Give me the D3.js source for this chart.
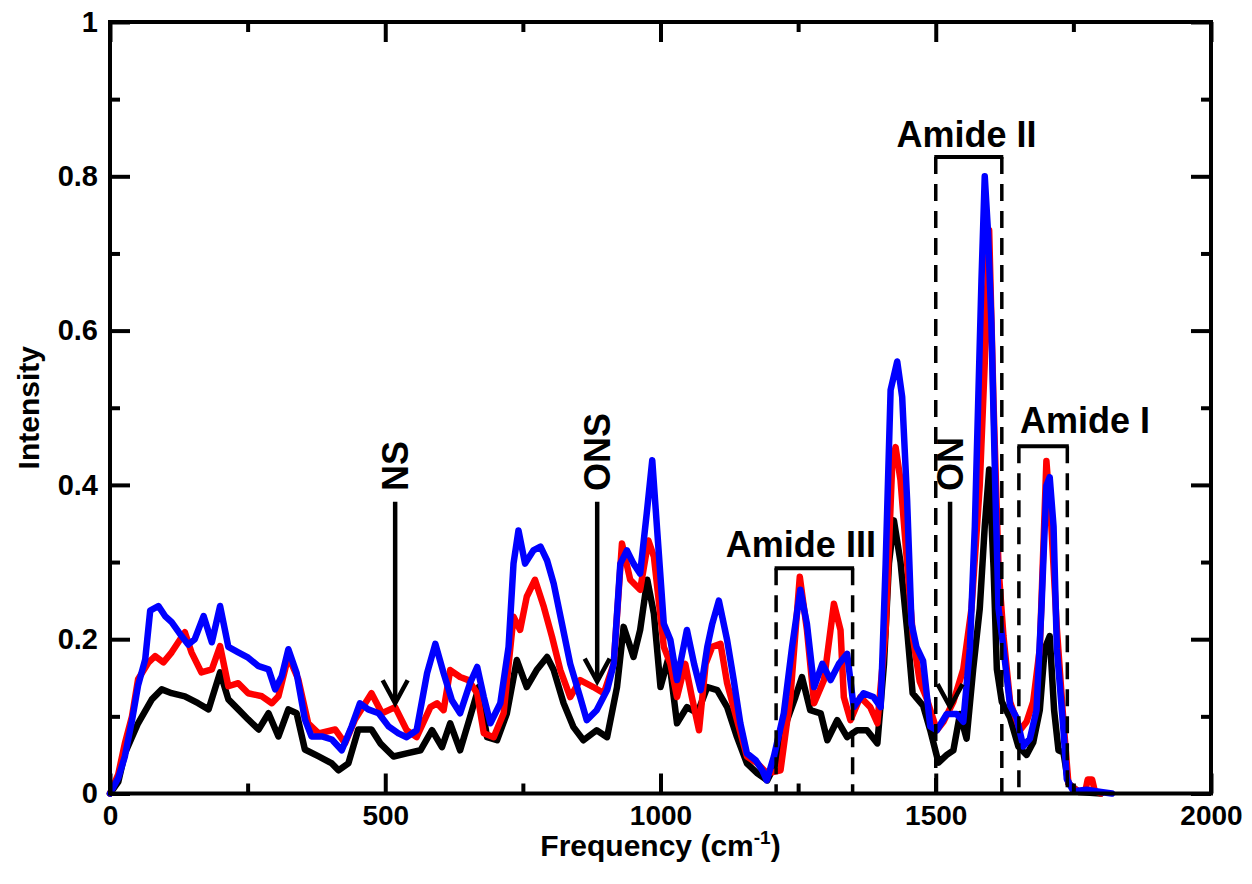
<!DOCTYPE html>
<html><head><meta charset="utf-8">
<script src="https://cdn.jsdelivr.net/npm/d3@7"></script>
<style>
body{margin:0;background:#fff}
svg{display:block;font-family:"Liberation Sans",Arial,Helvetica,sans-serif;font-weight:bold}
</style>
</head><body>
<svg id="chart" width="1252" height="884"></svg>
<script>
// ---- data ----
const xMajorTicks = [0, 500, 1000, 1500, 2000];
const xMinorTicks = [250, 750, 1250, 1750];
const yMajorTicks = [0, 0.2, 0.4, 0.6, 0.8, 1];
const yMinorTicks = [0.1, 0.3, 0.5, 0.7, 0.9];
const yTickLabels = ["0", "0.2", "0.4", "0.6", "0.8", "1"];

const blackSeries = [[0,0],[15,0.015],[27,0.052],[51,0.091],[76,0.122],[94,0.135],[112,0.13],[136,0.126],[160,0.117],[179,0.109],[200,0.157],[215,0.122],[233,0.109],[251,0.096],[270,0.083],[288,0.104],[306,0.074],[324,0.109],[339,0.104],[354,0.057],[379,0.048],[403,0.039],[415,0.03],[433,0.039],[451,0.083],[475,0.083],[491,0.065],[515,0.048],[539,0.052],[564,0.056],[585,0.082],[603,0.06],[618,0.091],[636,0.056],[654,0.099],[670,0.138],[685,0.073],[703,0.069],[721,0.104],[739,0.173],[757,0.138],[775,0.16],[794,0.177],[806,0.16],[824,0.117],[842,0.086],[860,0.069],[884,0.082],[903,0.073],[921,0.138],[933,0.216],[951,0.177],[963,0.212],[976,0.277],[988,0.233],[1000,0.138],[1015,0.177],[1030,0.091],[1048,0.112],[1067,0.104],[1085,0.138],[1103,0.134],[1121,0.112],[1139,0.073],[1157,0.039],[1176,0.026],[1194,0.017],[1212,0.043],[1230,0.095],[1245,0.125],[1257,0.151],[1272,0.108],[1291,0.104],[1303,0.069],[1321,0.095],[1339,0.073],[1357,0.082],[1375,0.082],[1394,0.065],[1406,0.168],[1415,0.298],[1424,0.354],[1436,0.3],[1448,0.212],[1458,0.13],[1465,0.124],[1477,0.114],[1490,0.082],[1505,0.04],[1520,0.05],[1532,0.056],[1544,0.103],[1556,0.071],[1568,0.161],[1580,0.24],[1589,0.346],[1597,0.42],[1605,0.293],[1611,0.161],[1620,0.119],[1635,0.098],[1650,0.061],[1665,0.05],[1677,0.066],[1689,0.108],[1698,0.188],[1707,0.204],[1715,0.108],[1723,0.056],[1732,0.053],[1741,0.013],[1760,0.002],[1800,0]];

const redSeries = [[0,0],[15,0.025],[27,0.065],[40,0.1],[51,0.148],[70,0.17],[82,0.178],[97,0.17],[112,0.183],[136,0.209],[148,0.183],[166,0.157],[185,0.161],[200,0.191],[215,0.139],[233,0.143],[251,0.13],[276,0.126],[294,0.117],[306,0.126],[324,0.178],[342,0.148],[360,0.091],[379,0.078],[409,0.083],[427,0.065],[445,0.096],[475,0.13],[494,0.104],[518,0.112],[539,0.082],[557,0.073],[582,0.112],[594,0.117],[606,0.108],[618,0.16],[636,0.151],[651,0.147],[667,0.13],[679,0.078],[697,0.073],[715,0.104],[733,0.229],[745,0.212],[757,0.255],[772,0.277],[788,0.242],[803,0.203],[818,0.16],[836,0.125],[854,0.147],[878,0.138],[897,0.13],[915,0.168],[930,0.324],[945,0.277],[963,0.264],[978,0.328],[988,0.307],[1006,0.19],[1018,0.168],[1030,0.125],[1045,0.168],[1057,0.125],[1070,0.082],[1082,0.168],[1094,0.19],[1109,0.194],[1121,0.143],[1139,0.095],[1157,0.048],[1176,0.039],[1194,0.026],[1218,0.03],[1236,0.125],[1253,0.281],[1266,0.212],[1279,0.117],[1297,0.147],[1315,0.246],[1327,0.212],[1333,0.125],[1345,0.095],[1363,0.125],[1381,0.112],[1394,0.091],[1409,0.212],[1421,0.428],[1427,0.449],[1436,0.406],[1448,0.298],[1459,0.2],[1471,0.145],[1483,0.124],[1502,0.082],[1514,0.093],[1532,0.119],[1550,0.161],[1565,0.24],[1580,0.4],[1589,0.558],[1597,0.73],[1605,0.505],[1614,0.293],[1623,0.204],[1635,0.119],[1653,0.082],[1665,0.093],[1677,0.119],[1689,0.188],[1701,0.431],[1710,0.346],[1720,0.214],[1732,0.093],[1741,0.013],[1760,0.002],[1772,0.004],[1776,0.018],[1784,0.018],[1789,0.003],[1800,0]];

const blueSeries = [[0,0],[15,0.02],[27,0.048],[40,0.095],[51,0.14],[64,0.174],[73,0.237],[88,0.243],[100,0.23],[112,0.222],[130,0.204],[142,0.193],[154,0.2],[170,0.23],[185,0.196],[200,0.243],[215,0.19],[233,0.183],[251,0.176],[270,0.165],[288,0.161],[300,0.135],[312,0.152],[324,0.187],[339,0.156],[354,0.096],[366,0.074],[385,0.074],[403,0.07],[421,0.056],[439,0.087],[454,0.117],[469,0.109],[488,0.104],[506,0.087],[524,0.078],[539,0.073],[557,0.082],[576,0.156],[591,0.194],[606,0.156],[621,0.121],[636,0.104],[654,0.143],[667,0.164],[679,0.125],[691,0.091],[709,0.117],[724,0.19],[733,0.298],[742,0.341],[754,0.298],[769,0.315],[782,0.32],[794,0.302],[806,0.272],[821,0.22],[836,0.168],[854,0.125],[866,0.095],[884,0.108],[903,0.134],[915,0.168],[927,0.298],[939,0.315],[951,0.298],[963,0.285],[975,0.363],[985,0.432],[994,0.341],[1006,0.22],[1018,0.199],[1030,0.147],[1048,0.212],[1061,0.168],[1073,0.134],[1085,0.19],[1094,0.22],[1106,0.25],[1121,0.199],[1133,0.147],[1145,0.091],[1157,0.052],[1173,0.043],[1185,0.03],[1193,0.017],[1206,0.048],[1224,0.104],[1239,0.19],[1254,0.264],[1266,0.22],[1279,0.138],[1294,0.168],[1309,0.147],[1324,0.168],[1339,0.181],[1351,0.112],[1369,0.13],[1387,0.125],[1400,0.112],[1409,0.298],[1418,0.523],[1430,0.56],[1439,0.514],[1448,0.38],[1456,0.22],[1465,0.19],[1477,0.172],[1490,0.087],[1502,0.082],[1520,0.103],[1538,0.103],[1550,0.093],[1562,0.188],[1571,0.346],[1577,0.505],[1583,0.664],[1589,0.8],[1595,0.727],[1601,0.611],[1608,0.4],[1614,0.24],[1623,0.188],[1635,0.114],[1647,0.098],[1659,0.061],[1671,0.071],[1683,0.108],[1692,0.24],[1701,0.399],[1707,0.41],[1714,0.346],[1720,0.188],[1732,0.082],[1738,0.019],[1750,0.003],[1774,0.005],[1800,0.002],[1820,0]];

const seriesList = [blackSeries, redSeries, blueSeries];
const seriesColors = ["#000000", "#ff0000", "#0000ff"];

const bandLabels = ["Amide III", "Amide II", "Amide I"];
const bandFrom = [1210, 1500, 1651];
const bandTo = [1349, 1620, 1739];
const bandTop = [0.292, 0.825, 0.45];
const bandLabelFreq = [1255, 1556, 1771];
const bandLabelLevel = [0.307, 0.838, 0.467];

const arrowLabels = ["NS", "ONS", "ON"];
const arrowFreq = [518, 885, 1526];
const arrowTipLevel = [0.117, 0.145, 0.112];
const arrowTailLevel = 0.378;
const arrowLabelLevel = 0.392;

// ---- layout ----
const svg = d3.select("#chart");
const L = 110, R = 1211, T = 22, B = 793.5;
const x = d3.scaleLinear().domain([0, 2000]).range([L, R]);
const y = d3.scaleLinear().domain([0, 1]).range([B, T]);

// series
const line = d3.line().x(d => x(d[0])).y(d => y(d[1]));
seriesList.forEach((s, i) => {
  svg.append("path").datum(s)
    .attr("d", line)
    .attr("fill", "none")
    .attr("stroke", seriesColors[i])
    .attr("stroke-width", 6.5)
    .attr("stroke-linejoin", "round")
    .attr("stroke-linecap", "round");
});

// axes
function styleAxis(g, fs) {
  g.select(".domain").remove();
  g.selectAll(".tick line").attr("stroke", "#000").attr("stroke-width", 4);
  g.selectAll(".tick text").attr("fill", "#000").style("font-size", fs + "px").style("font-weight", "bold")
    .style("font-family", '"Liberation Sans",Arial,Helvetica,sans-serif');
}
const gxb = svg.append("g").attr("transform", `translate(0,${B})`)
  .call(d3.axisBottom(x).tickValues(xMajorTicks).tickFormat(d3.format("d")).tickSizeInner(-20).tickSizeOuter(0).tickPadding(12));
styleAxis(gxb, 28);
const gxbm = svg.append("g").attr("transform", `translate(0,${B})`)
  .call(d3.axisBottom(x).tickValues(xMinorTicks).tickFormat("").tickSizeInner(-10).tickSizeOuter(0));
styleAxis(gxbm, 28);
const gxt = svg.append("g").attr("transform", `translate(0,${T})`)
  .call(d3.axisTop(x).tickValues(xMajorTicks).tickFormat("").tickSizeInner(-20).tickSizeOuter(0));
styleAxis(gxt, 28);
const gxtm = svg.append("g").attr("transform", `translate(0,${T})`)
  .call(d3.axisTop(x).tickValues(xMinorTicks).tickFormat("").tickSizeInner(-10).tickSizeOuter(0));
styleAxis(gxtm, 28);

const gyl = svg.append("g").attr("transform", `translate(${L},0)`)
  .call(d3.axisLeft(y).tickValues(yMajorTicks).tickFormat((d, i) => yTickLabels[i]).tickSizeInner(-20).tickSizeOuter(0).tickPadding(12));
styleAxis(gyl, 29);
const gylm = svg.append("g").attr("transform", `translate(${L},0)`)
  .call(d3.axisLeft(y).tickValues(yMinorTicks).tickFormat("").tickSizeInner(-10).tickSizeOuter(0));
styleAxis(gylm, 29);
const gyr = svg.append("g").attr("transform", `translate(${R},0)`)
  .call(d3.axisRight(y).tickValues(yMajorTicks).tickFormat("").tickSizeInner(-20).tickSizeOuter(0));
styleAxis(gyr, 29);
const gyrm = svg.append("g").attr("transform", `translate(${R},0)`)
  .call(d3.axisRight(y).tickValues(yMinorTicks).tickFormat("").tickSizeInner(-10).tickSizeOuter(0));
styleAxis(gyrm, 29);

// frame
svg.append("rect").attr("x", L).attr("y", T).attr("width", R - L).attr("height", B - T)
  .attr("fill", "none").attr("stroke", "#000").attr("stroke-width", 4);

// axis titles
const xt = svg.append("text").attr("x", (L + R) / 2).attr("y", 856)
  .attr("text-anchor", "middle").style("font-size", "30px").attr("fill", "#000");
xt.append("tspan").text("Frequency (cm");
xt.append("tspan").attr("dy", -12).style("font-size", "19px").text("-1");
xt.append("tspan").attr("dy", 12).text(")");

svg.append("text").attr("transform", `translate(39,${(T + B) / 2}) rotate(-90)`)
  .attr("text-anchor", "middle").style("font-size", "30px").attr("fill", "#000").text("Intensity");

// band annotations
bandLabels.forEach((lab, i) => {
  const x0 = x(bandFrom[i]), x1 = x(bandTo[i]), yt = y(bandTop[i]);
  svg.append("line").attr("x1", x0 - 1.5).attr("x2", x1 + 1.5).attr("y1", yt).attr("y2", yt)
    .attr("stroke", "#000").attr("stroke-width", 4);
  [x0, x1].forEach(xx => {
    svg.append("line").attr("x1", xx).attr("x2", xx).attr("y1", yt).attr("y2", y(0))
      .attr("stroke", "#000").attr("stroke-width", 3.5).attr("stroke-dasharray", "17,10");
  });
  svg.append("text").attr("x", x(bandLabelFreq[i])).attr("y", y(bandLabelLevel[i]))
    .attr("text-anchor", "middle").style("font-size", "36px").attr("fill", "#000").text(lab);
});

// arrows
arrowLabels.forEach((lab, i) => {
  const ax = x(arrowFreq[i]), ytip = y(arrowTipLevel[i]), ytail = y(arrowTailLevel);
  svg.append("line").attr("x1", ax).attr("x2", ax).attr("y1", ytail).attr("y2", ytip - 2)
    .attr("stroke", "#000").attr("stroke-width", 4.5);
  svg.append("path").attr("d", `M${ax - 12.5},${ytip - 23}L${ax},${ytip}L${ax + 12.5},${ytip - 23}`)
    .attr("fill", "none").attr("stroke", "#000").attr("stroke-width", 4.5);
  svg.append("text").attr("transform", `translate(${ax + 13},${y(arrowLabelLevel)}) rotate(-90)`)
    .attr("text-anchor", "start").style("font-size", "36px").attr("fill", "#000").text(lab);
});
</script>
</body></html>
